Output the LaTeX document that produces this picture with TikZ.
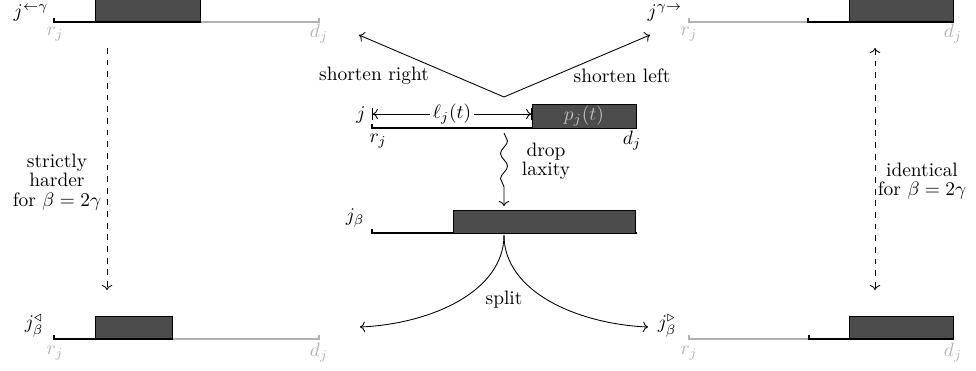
\documentclass[tikz,border=0pt]{standalone}
\usetikzlibrary{decorations.pathmorphing,arrows.meta}
\begin{document}
\begin{tikzpicture}[x=0.515pt,y=-0.515pt,
  jobbox/.style={draw=black,fill=black!70,line width=0.5pt},
  blk/.style={black,line width=0.6pt},
  gry/.style={black!30,line width=0.6pt},
  glbl/.style={text=black!30,inner sep=1pt},
  lbl/.style={inner sep=1pt},
  conn/.style={->,line width=0.45pt},
  dconn/.style={line width=0.45pt,dash pattern=on 3pt off 3pt},
  ]
\useasboundingbox (0,0) rectangle (976,371);

% top-left job j^{<-gamma}
\draw[gry] (200,22) -- (319,22) -- (319,18);
\filldraw[jobbox] (95,-2) rectangle (200,22);
\draw[blk] (54,18) -- (54,22) -- (200,22);
\node[glbl] (tlr) at (55,34) {$r_j$};
\node[glbl] (tld) at (319,34) {$d_j$};
\node[lbl] (tlj) at (31,13) {$j^{\leftarrow\gamma}$};

% top-right job j^{gamma->}
\draw[gry] (689,18) -- (689,22) -- (808,22);
\filldraw[jobbox] (849,-2) rectangle (953,22);
\draw[blk] (808,18) -- (808,22) -- (954,22);
\node[glbl] (trr) at (689,34) {$r_j$};
\node[glbl] (trd) at (953,34) {$d_j$};
\node[lbl] (trj) at (665,13) {$j^{\gamma\rightarrow}$};

% middle job j
\coordinate (la) at (372,114);
\coordinate (lb) at (532,114);
\draw[{Bar[width=6pt]To[]}-{To[]Bar[width=6pt]},line width=0.45pt] (la) -- node[fill=white,inner sep=1.5pt] (lj) {$\ell_j(t)$} (lb);
\draw[blk] (372,124) -- (372,128) -- (637,128);
\filldraw[jobbox] (532,104) rectangle (636,128);
\node[text=black!25,lbl] (pj) at (584,116) {$p_j(t)$};
\node[lbl] (mj) at (361,115) {$j$};
\node[lbl] (mr) at (378,141) {$r_j$};
\node[lbl] (md) at (632,141) {$d_j$};

% job j_beta
\draw[blk] (372,229) -- (372,233) -- (637,233);
\filldraw[jobbox] (453,210) rectangle (635,233);
\node[lbl] (jb) at (355,218) {$j_\beta$};

% bottom-left job
\draw[gry] (173,339) -- (319,339) -- (319,335);
\filldraw[jobbox] (95,316) rectangle (172,339);
\draw[blk] (54,335) -- (54,339) -- (173,339);
\node[glbl] (blr) at (55,353) {$r_j$};
\node[glbl] (bld) at (319,353) {$d_j$};
\node[lbl] (blj) at (34,326) {$j_\beta^{\triangleleft}$};

% bottom-right job
\draw[gry] (689,335) -- (689,339) -- (809,339);
\filldraw[jobbox] (849,316) rectangle (953,339);
\draw[blk] (809,335) -- (809,339) -- (954,339);
\node[glbl] (brr) at (689,353) {$r_j$};
\node[glbl] (brd) at (953,353) {$d_j$};
\node[lbl] (brj) at (667,326) {$j_\beta^{\triangleright}$};

% shorten arrows
\coordinate (v) at (504,97);
\coordinate (sr) at (359,35);
\coordinate (sl) at (650,35);
\draw[conn] (v) -- (sr);
\draw[conn] (v) -- (sl);
\node[lbl] (srl) at (374,76) {shorten right};
\node[lbl] (sll) at (622,76) {shorten left};

% drop laxity
\coordinate (d1) at (504,133);
\coordinate (d2) at (504,206);
\draw[conn,decorate,decoration={snake,amplitude=1.8pt,segment length=13pt,post length=4pt}] (d1) -- (d2);
\node[align=center,lbl] (dl) at (546,161) {drop\\[-2pt]laxity};

% split
\coordinate (sp) at (504,235);
\coordinate (spl) at (360,327);
\coordinate (spr) at (648,327);
\draw[conn] (sp) .. controls (504,292) and (430,324) .. (spl);
\draw[conn] (sp) .. controls (504,292) and (578,324) .. (spr);
\node[lbl] (spt) at (504,300) {split};

% dashed vertical arrows
\coordinate (la1) at (107,48);
\coordinate (la2) at (107,290);
\draw[dconn,->] (la1) -- (la2);
\node[align=center,lbl] (lal) at (57,182) {strictly\\[-2pt]harder\\[-2pt]for $\beta=2\gamma$};
\coordinate (ra1) at (875,48);
\coordinate (ra2) at (875,290);
\draw[dconn,<->] (ra1) -- (ra2);
\node[align=center,lbl] (ral) at (922,181) {identical\\[-2pt]for $\beta=2\gamma$};
\end{tikzpicture}
\end{document}
